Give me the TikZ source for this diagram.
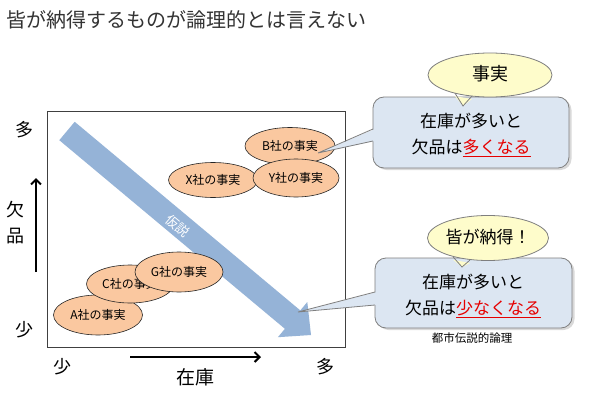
\documentclass[tikz,border=0pt]{standalone}
\usepackage{fontspec}
\setmainfont{Noto Sans CJK JP}
\usetikzlibrary{shapes.geometric,arrows.meta}
\definecolor{titlec}{HTML}{333333}
\definecolor{arrowc}{HTML}{95B3D7}
\definecolor{orangef}{HTML}{FAC8A0}
\definecolor{boxf}{HTML}{DCE6F2}
\definecolor{boxd}{HTML}{7F7F7F}
\definecolor{yelf}{HTML}{FEFCCB}
\definecolor{redt}{HTML}{E60000}
\newcommand{\fs}[1]{\fontsize{#1}{#1}\selectfont}
\newcommand{\redul}[1]{\textcolor{redt}{\underline{#1}}}
\tikzset{
  company/.style={ellipse, draw=black!85, line width=0.6pt, fill=orangef,
    inner sep=0pt, minimum width=89pt, minimum height=38pt, font=\fs{12}},
  axislabel/.style={inner sep=0pt, font=\fs{18}},
  calloutbox/.style={rounded corners=11pt, draw=boxd, line width=0.8pt, fill=boxf,
    inner sep=0pt},
  shadowbox/.style={rounded corners=11pt, fill=black, opacity=0.15, inner sep=0pt},
  calltext/.style={align=center, font=\fontsize{17}{26}\selectfont, inner sep=0pt},
  bubble/.style={ellipse, draw=boxd, line width=0.8pt, fill=yelf, inner sep=0pt},
  axisarrow/.style={line width=2pt, -{Straight Barb[length=5pt,width=10pt,line width=2pt]}}
}
\begin{document}
\begin{tikzpicture}[x=1pt,y=-1pt]
\useasboundingbox (0,0) rectangle (600,415);
\fill[white] (0,0) rectangle (600,415);

% title
\node[anchor=west, inner sep=0pt, text=titlec, font=\fs{20}] (title) at (6,20)
  {皆が納得するものが論理的とは言えない};

% frame
\node[draw=black!75, line width=0.7pt, minimum width=298pt, minimum height=236pt,
  inner sep=0pt] (frame) at (196,229) {};

% y axis
\node[axislabel] (ymax) at (25,130) {多};
\node[axislabel] (ymin) at (25,330) {少};
\node[axislabel, align=center, font=\fontsize{18}{26}\selectfont] (ylab) at (15,223) {欠\\品};
\coordinate (ya) at (36,272);
\coordinate (yb) at (36,178);
\draw[axisarrow] (ya) -- (yb);

% x axis
\node[axislabel] (xmin) at (62,367) {少};
\node[axislabel] (xmax) at (325,367) {多};
\node[axislabel, font=\fs{19}] (xlab) at (195,377) {在庫};
\coordinate (xa) at (130,357);
\coordinate (xb) at (261,357);
\draw[axisarrow] (xa) -- (xb);

% hypothesis arrow
\fill[arrowc] (59.3,140.2) -- (74.7,121.8) -- (300.3,310.4) -- (307.3,302.0)
  -- (311,335) -- (277.9,337.2) -- (284.9,328.8) -- cycle;
\node[rotate=-40, text=white, font=\fs{13}, inner sep=0pt] (hyp) at (178,226) {仮説};

% company ellipses
\node[company, minimum width=90pt, minimum height=37pt] (b) at (290,146) {B社の事実};
\node[company, minimum width=89pt, minimum height=35pt] (x) at (213,180) {X社の事実};
\node[company, minimum width=86pt, minimum height=38pt] (y) at (296,178) {Y社の事実};
\node[company, minimum width=89pt, minimum height=40pt] (a) at (98,315) {A社の事実};
\node[company, minimum width=87pt, minimum height=38pt] (c) at (130,284) {C社の事実};
\node[company, minimum width=88pt, minimum height=40pt] (g) at (179,272) {G社の事実};

% ---------- top callout ----------
\node[shadowbox, minimum width=196pt, minimum height=71pt] (sh1) at (473.5,134.5) {};
\node[calloutbox, minimum width=196pt, minimum height=71pt] (box1) at (471,132.5) {};
\coordinate (t1a) at (373,129);
\coordinate (t1b) at (373,141);
\coordinate (t1tip) at (318,153);
\fill[boxf] ([xshift=2pt]t1a) -- (t1tip) -- ([xshift=2pt]t1b) -- cycle;
\draw[boxd, line width=0.8pt] (t1a) -- (t1tip) -- (t1b);
\node[calltext] (txt1) at (471,135) {在庫が多いと\\欠品は\redul{多くなる}};

\node[bubble, minimum width=124pt, minimum height=44pt] (e1) at (490,75) {};
\coordinate (e1a) at (455,93.2);
\coordinate (e1b) at (472,96);
\coordinate (e1tip) at (463,106);
\fill[yelf] ([yshift=-3pt]e1a) -- (e1tip) -- ([yshift=-3pt]e1b) -- cycle;
\draw[boxd, line width=0.8pt] (e1a) -- (e1tip) -- (e1b);
\node[font=\fs{18}, inner sep=0pt] (e1t) at (490,74) {事実};

% ---------- bottom callout ----------
\node[shadowbox, minimum width=197pt, minimum height=70pt] (sh2) at (476,295) {};
\node[calloutbox, minimum width=197pt, minimum height=70pt] (box2) at (473.5,293) {};
\coordinate (t2a) at (375,292);
\coordinate (t2b) at (375,305);
\coordinate (t2tip) at (298,312);
\fill[boxf] ([xshift=2pt]t2a) -- (t2tip) -- ([xshift=2pt]t2b) -- cycle;
\draw[boxd, line width=0.8pt] (t2a) -- (t2tip) -- (t2b);
\node[calltext] (txt2) at (473,296) {在庫が多いと\\欠品は\redul{少なくなる}};

\node[bubble, minimum width=121pt, minimum height=45pt] (e2) at (488,238) {};
\coordinate (e2a) at (453,256.8);
\coordinate (e2b) at (470,260);
\coordinate (e2tip) at (462,267);
\fill[yelf] ([yshift=-3pt]e2a) -- (e2tip) -- ([yshift=-3pt]e2b) -- cycle;
\draw[boxd, line width=0.8pt] (e2a) -- (e2tip) -- (e2b);
\node[font=\fs{17}, inner sep=0pt] (e2t) at (488,237) {皆が納得！};

\node[font=\fs{11.5}, inner sep=0pt] (note) at (472,338) {都市伝説的論理};
\end{tikzpicture}
\end{document}
